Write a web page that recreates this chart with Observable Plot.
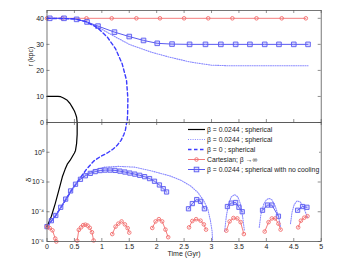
<!DOCTYPE html>
<html><head><meta charset="utf-8">
<script src="https://cdn.jsdelivr.net/npm/d3@7"></script>
<script src="https://cdn.jsdelivr.net/npm/@observablehq/plot@0.6"></script>
<style>
body{margin:0;background:#fff}
#wrap{position:relative;width:355px;height:260px;overflow:hidden}
#wrap svg{position:absolute;left:0;top:0}
</style></head><body><div id="wrap"></div>
<script>
// ---------- data (time in Gyr) ----------
const xTicks = [0, 0.5, 1, 1.5, 2, 2.5, 3, 3.5, 4, 4.5, 5];
const rTicks = [0, 10, 20, 30, 40];
const deltaTicks = [1e-6, 1e-4, 1e-2, 1e0];
const deltaTickLabels = ["10⁻⁶", "10⁻⁴", "10⁻²", "10⁰"];

// top panel: r (kpc)
const blackR_t = [0, 0.1, 0.2, 0.25, 0.3, 0.37, 0.42, 0.46, 0.5, 0.52, 0.54, 0.55];
const blackR_r = [10, 10, 10, 9.9, 9.4, 8.5, 7.3, 5.9, 4.4, 3.3, 2.0, 0];
const dottedR_t = [0, 0.3, 0.5, 0.7, 0.85, 1.0, 1.2, 1.5, 1.9, 2.25, 2.62, 3.0, 3.3, 4.76];
const dottedR_r = [40, 40, 39.8, 38.8, 37.3, 35.8, 33.4, 30, 27, 25, 23.2, 22, 21.8, 21.8];
const dashedR_t = [0, 0.5, 0.7, 0.92, 1.1, 1.25, 1.37, 1.45, 1.475, 1.47, 1.46];
const dashedR_r = [40, 39.8, 38.8, 36.4, 32.8, 28.3, 22.6, 16.2, 9.1, 3, 0];
const cartR_t = [0, 0.28, 0.72, 1.18, 1.63, 2.06, 2.5, 2.94, 3.38, 3.82, 4.28, 4.72];
const cartR_r = [40, 40, 40, 40, 40, 40, 40, 40, 40, 40, 40, 40];
const noCoolR_t = [0.05, 0.31, 0.54, 0.73, 0.93, 1.23, 1.5, 1.76, 2.01, 2.28, 2.6, 2.89, 3.17, 3.44, 3.7, 3.97, 4.23, 4.5, 4.76];
const noCoolR_r = [40, 40, 39.6, 38.6, 37, 34.7, 33, 31.5, 30.4, 30.1, 30, 30, 30, 30, 30, 30, 30, 30, 30];

// bottom panel: log10(delta)
const blackD_t = [0, 0.08, 0.15, 0.22, 0.28, 0.33, 0.37, 0.42, 0.46, 0.5, 0.52, 0.54, 0.55, 0.55];
const blackD_log = [-5, -4.3, -3.45, -2.5, -1.65, -1.15, -0.8, -0.55, -0.3, -0.05, 0.12, 0.6, 1.2, 2];
const dashedD_t = [0, 0.15, 0.3, 0.45, 0.6, 0.72, 0.85, 0.97, 1.1, 1.2, 1.28, 1.35, 1.4, 1.43, 1.45, 1.46];
const dashedD_log = [-5, -4.3, -3.45, -2.55, -1.75, -1.15, -0.6, -0.3, -0.05, 0.2, 0.47, 0.8, 1.18, 1.5, 1.95, 2];
const dotted1_t = [0, 0.15, 0.3, 0.45, 0.6, 0.75, 0.9, 1.05, 1.3, 1.6, 1.9, 2.25, 2.45, 2.62, 2.75, 2.86, 2.93, 2.98, 3.01, 3.02];
const dotted1_log = [-5, -4.3, -3.45, -2.55, -1.8, -1.4, -1.15, -1.0, -0.95, -1.0, -1.25, -1.6, -1.9, -2.27, -2.7, -3.27, -3.8, -4.6, -5.3, -6];
const dotted2_t = [3.24, 3.27, 3.31, 3.36, 3.42, 3.48, 3.53, 3.57, 3.6];
const dotted2_log = [-5.3, -4.3, -3.5, -3.0, -2.85, -3.0, -3.5, -4.4, -5.3];
const dotted3_t = [3.87, 3.9, 3.95, 4.0, 4.05, 4.1, 4.16, 4.22, 4.26];
const dotted3_log = [-5.05, -4.2, -3.5, -3.2, -3.1, -3.2, -3.6, -4.3, -5.05];
const dotted4_t = [4.44, 4.47, 4.51, 4.56, 4.62, 4.68, 4.75];
const dotted4_log = [-4.8, -4.0, -3.5, -3.27, -3.35, -3.7, -4.4];
const noCool1_t = [0, 0.08, 0.16, 0.25, 0.34, 0.43, 0.52, 0.61, 0.7, 0.79, 0.88, 0.97, 1.06, 1.15, 1.24, 1.33, 1.42, 1.51, 1.6, 1.69, 1.78, 1.87, 1.96, 2.05, 2.12, 2.18];
const noCool1_log = [-5, -4.6, -4.25, -3.7, -3.15, -2.6, -2.15, -1.82, -1.58, -1.42, -1.3, -1.23, -1.2, -1.2, -1.22, -1.27, -1.33, -1.4, -1.47, -1.55, -1.64, -1.77, -1.95, -2.2, -2.45, -2.67];
const noCool2_t = [2.58, 2.65, 2.73, 2.8, 2.87];
const noCool2_log = [-3.8, -3.45, -3.18, -3.3, -3.8];
const noCool3_t = [3.29, 3.36, 3.44, 3.5, 3.56];
const noCool3_log = [-3.65, -3.42, -3.38, -3.7, -4.0];
const noCool4_t = [3.93, 4.02, 4.1, 4.22];
const noCool4_log = [-3.9, -3.55, -3.55, -4.3];
const noCool5_t = [4.57, 4.66, 4.74];
const noCool5_log = [-3.9, -3.65, -3.7];
const cart1_t = [0, 0.05, 0.1, 0.15, 0.17];
const cart1_log = [-5, -5.1, -5.25, -5.8, -6];
const cart2_t = [0.55, 0.58, 0.62, 0.66, 0.7, 0.74, 0.78, 0.82, 0.85];
const cart2_log = [-5.95, -5.22, -5.05, -4.9, -4.87, -4.93, -5.08, -5.38, -5.93];
const cart3_t = [1.19, 1.25, 1.3, 1.36, 1.42, 1.47, 1.5];
const cart3_log = [-5.5, -5.0, -4.8, -4.65, -4.85, -5.1, -5.4];
const cart4_t = [1.92, 1.98, 2.04, 2.1, 2.16, 2.21];
const cart4_log = [-5.09, -4.65, -4.5, -4.65, -5.2, -5.71];
const cart5_t = [2.59, 2.65, 2.72, 2.8, 2.86, 2.9];
const cart5_log = [-5.05, -4.62, -4.5, -4.6, -4.85, -5.2];
const cart6_t = [3.27, 3.33, 3.4, 3.47, 3.53, 3.59];
const cart6_log = [-5.27, -4.65, -4.42, -4.45, -4.7, -5.5];
const cart7_t = [3.97, 4.04, 4.1, 4.16, 4.22, 4.26];
const cart7_log = [-5.33, -4.7, -4.45, -4.45, -4.8, -5.2];
const cart8_t = [4.58, 4.63, 4.69, 4.75];
const cart8_log = [-5.05, -4.6, -4.4, -4.3];

const legendLabels = [
  "β = 0.0244 ; spherical",
  "β = 0.0244 ; spherical",
  "β = 0 ; spherical",
  "Cartesian; β →∞",
  "β = 0.0244 ; spherical with no cooling"
];

// ---------- helpers ----------
const rowsR = (t, r) => t.map((ti, i) => ({t: ti, r: r[i]}));
const rowsD = (segs) => segs.flatMap(([t, lg], s) => t.map((ti, i) => ({t: ti, d: 10 ** lg[i], seg: s})));

const cBlack = "#000", cDot = "#8a8aff", cDash = "#3c3cff", cRed = "#f26d6d", cSq = "#5a5af0";
const W = 355, H = 260, ML = 46.5, MR = 34.3;
const TL = 3; // tick length
const plotStyle = {fontFamily: "'Liberation Sans', Arial, sans-serif", fontSize: "7px", background: "transparent", overflow: "visible", color: "#222"};

// ---------- top panel ----------
const topMT = 10, topMB = H - 122;
const topFrameH = H - topMT - topMB, frameW = W - ML - MR;
const topPlot = Plot.plot({
  width: W, height: H, marginLeft: ML, marginRight: MR, marginTop: topMT, marginBottom: topMB,
  style: plotStyle,
  x: {domain: [0, 5], axis: null},
  y: {domain: [0, 43], axis: null},
  marks: [
    Plot.ruleX(xTicks, {x: d => d, insetTop: topFrameH - TL, stroke: "#444", strokeWidth: 0.6}),
    Plot.ruleX(xTicks, {x: d => d, insetBottom: topFrameH - TL, stroke: "#444", strokeWidth: 0.6}),
    Plot.ruleY(rTicks, {y: d => d, insetRight: frameW - TL, stroke: "#444", strokeWidth: 0.6}),
    Plot.ruleY(rTicks, {y: d => d, insetLeft: frameW - TL, stroke: "#444", strokeWidth: 0.6}),
    Plot.text(rTicks, {y: d => d, frameAnchor: "left", dx: -3, textAnchor: "end", text: d => String(d), fill: "#222"}),
    Plot.text(["r (kpc)"], {frameAnchor: "left", dx: -16, rotate: -90, text: d => d, fill: "#222"}),
    Plot.line(rowsR(cartR_t, cartR_r), {x: "t", y: "r", stroke: cRed, strokeWidth: 0.9}),
    Plot.dot(rowsR(cartR_t, cartR_r), {x: "t", y: "r", r: 1.8, stroke: cRed, fill: "none", strokeWidth: 0.9}),
    Plot.line(rowsR(dottedR_t, dottedR_r), {x: "t", y: "r", stroke: cDot, strokeWidth: 1.1, strokeDasharray: "1,1.3"}),
    Plot.line(rowsR(noCoolR_t, noCoolR_r), {x: "t", y: "r", stroke: cSq, strokeWidth: 1}),
    Plot.dot(rowsR(noCoolR_t, noCoolR_r), {x: "t", y: "r", symbol: "square", r: 2.6, stroke: cSq, fill: "rgba(120,120,255,0.25)", strokeWidth: 0.9}),
    Plot.line(rowsR(dashedR_t, dashedR_r), {x: "t", y: "r", stroke: cDash, strokeWidth: 1.4, strokeDasharray: "3.5,2.5"}),
    Plot.line(rowsR(blackR_t, blackR_r), {x: "t", y: "r", stroke: cBlack, strokeWidth: 1.2}),
    Plot.frame({stroke: "#555", strokeWidth: 0.8})
  ]
});

// ---------- bottom panel ----------
const botMT = 122, botMB = H - 241;
const botFrameH = H - botMT - botMB;
const noCoolRows = rowsD([[noCool1_t, noCool1_log], [noCool2_t, noCool2_log], [noCool3_t, noCool3_log], [noCool4_t, noCool4_log], [noCool5_t, noCool5_log]]);
const cartRows = rowsD([[cart1_t, cart1_log], [cart2_t, cart2_log], [cart3_t, cart3_log], [cart4_t, cart4_log], [cart5_t, cart5_log], [cart6_t, cart6_log], [cart7_t, cart7_log], [cart8_t, cart8_log]]);
const botPlot = Plot.plot({
  width: W, height: H, marginLeft: ML, marginRight: MR, marginTop: botMT, marginBottom: botMB,
  style: plotStyle,
  x: {domain: [0, 5], axis: null},
  y: {type: "log", domain: [1e-6, 1e2], axis: null},
  marks: [
    Plot.ruleX(xTicks, {x: d => d, insetTop: botFrameH - TL, stroke: "#444", strokeWidth: 0.6}),
    Plot.ruleX(xTicks, {x: d => d, insetBottom: botFrameH - TL, stroke: "#444", strokeWidth: 0.6}),
    Plot.ruleY(deltaTicks, {y: d => d, insetRight: frameW - TL, stroke: "#444", strokeWidth: 0.6}),
    Plot.ruleY(deltaTicks, {y: d => d, insetLeft: frameW - TL, stroke: "#444", strokeWidth: 0.6}),
    Plot.text(deltaTicks, {y: d => d, frameAnchor: "left", dx: -3, textAnchor: "end", text: (d, i) => deltaTickLabels[i], fill: "#222"}),
    Plot.text(xTicks, {x: d => d, frameAnchor: "bottom", dy: 3, lineAnchor: "top", text: d => String(d), fill: "#222"}),
    Plot.text(["Time (Gyr)"], {frameAnchor: "bottom", dy: 9.5, lineAnchor: "top", text: d => d, fill: "#222"}),
    Plot.text(["δ"], {frameAnchor: "left", dx: -19, rotate: -90, text: d => d, fill: "#222", fontSize: 8}),
    Plot.line(rowsD([[dotted1_t, dotted1_log], [dotted2_t, dotted2_log], [dotted3_t, dotted3_log], [dotted4_t, dotted4_log]]),
      {x: "t", y: "d", z: "seg", stroke: cDot, strokeWidth: 1.1, strokeDasharray: "1,1.3"}),
    Plot.line(rowsD([[dashedD_t, dashedD_log]]), {x: "t", y: "d", z: "seg", stroke: cDash, strokeWidth: 1.4, strokeDasharray: "3.5,2.5"}),
    Plot.line(rowsD([[blackD_t, blackD_log]]), {x: "t", y: "d", z: "seg", stroke: cBlack, strokeWidth: 1.2}),
    Plot.line(noCoolRows, {x: "t", y: "d", z: "seg", stroke: cSq, strokeWidth: 1}),
    Plot.dot(noCoolRows, {x: "t", y: "d", symbol: "square", r: 2.4, stroke: cSq, fill: "rgba(120,120,255,0.25)", strokeWidth: 0.9}),
    Plot.line(cartRows, {x: "t", y: "d", z: "seg", stroke: cRed, strokeWidth: 0.9}),
    Plot.dot(cartRows, {x: "t", y: "d", r: 1.8, stroke: cRed, fill: "none", strokeWidth: 0.9}),
    Plot.frame({stroke: "#555", strokeWidth: 0.8})
  ]
});

const wrap = document.getElementById("wrap");
wrap.appendChild(botPlot);
wrap.appendChild(topPlot);

// ---------- legend ----------
const legStyles = [
  {stroke: cBlack, dash: null, w: 1.2, marker: null},
  {stroke: cDot, dash: "1,1.3", w: 1.1, marker: null},
  {stroke: cDash, dash: "3.5,2.5", w: 1.4, marker: null},
  {stroke: cRed, dash: null, w: 0.9, marker: "circle"},
  {stroke: cSq, dash: null, w: 1, marker: "square"}
];
const leg = d3.create("svg").attr("width", W).attr("height", H)
  .style("font-family", "'Liberation Sans', Arial, sans-serif").style("font-size", "6.8px");
leg.append("rect").attr("x", 182).attr("y", 123).attr("width", 137).attr("height", 52).attr("fill", "#fff");
legendLabels.forEach((lab, i) => {
  const y = 129.5 + i * 10, s = legStyles[i];
  leg.append("line").attr("x1", 188).attr("x2", 205).attr("y1", y).attr("y2", y)
    .attr("stroke", s.stroke).attr("stroke-width", s.w).attr("stroke-dasharray", s.dash);
  if (s.marker === "circle") leg.append("circle").attr("cx", 196.5).attr("cy", y).attr("r", 1.8).attr("fill", "none").attr("stroke", s.stroke).attr("stroke-width", 0.9);
  if (s.marker === "square") leg.append("rect").attr("x", 194.2).attr("y", y - 2.3).attr("width", 4.6).attr("height", 4.6).attr("fill", "rgba(120,120,255,0.25)").attr("stroke", s.stroke).attr("stroke-width", 0.9);
  leg.append("text").attr("x", 207).attr("y", y).attr("dy", "0.35em").attr("fill", "#222").text(lab);
});
wrap.appendChild(leg.node());
</script></body></html>
